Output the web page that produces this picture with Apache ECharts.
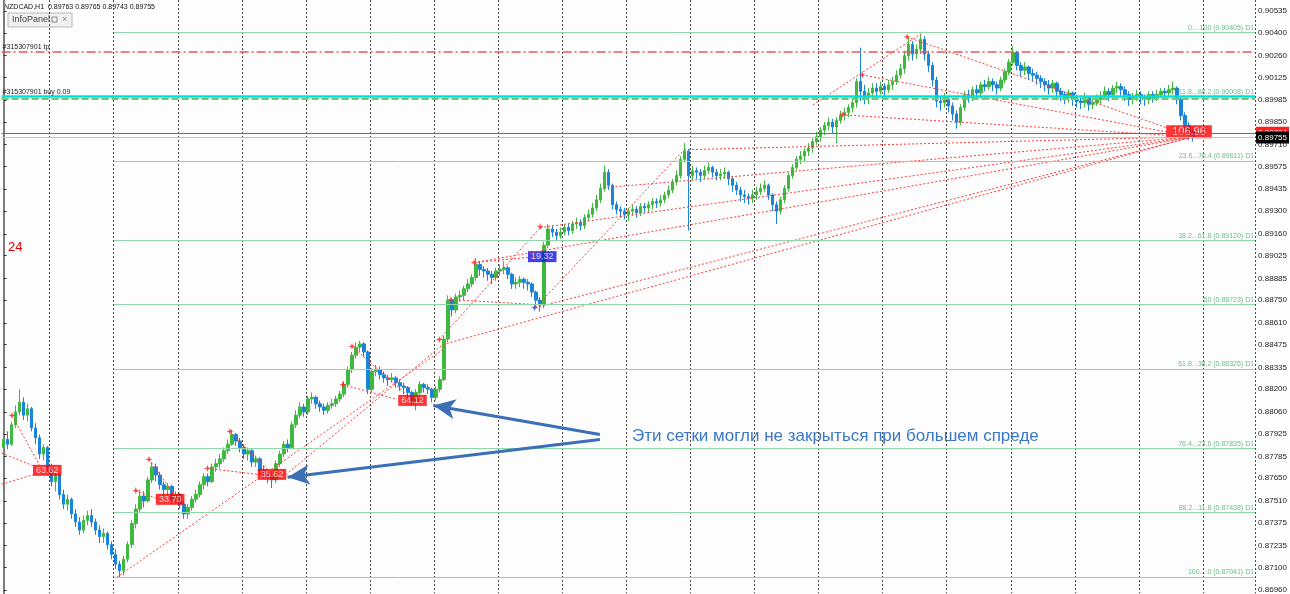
<!DOCTYPE html>
<html><head><meta charset="utf-8">
<script src="https://cdn.jsdelivr.net/npm/echarts@6/dist/echarts.min.js"></script>
<style>html,body{margin:0;padding:0;background:#fdfdfd}#c{width:1290px;height:594px}</style>
</head><body><div id="c"></div><script>
// NZDCAD H1 bars (open, high, low, close)
const opens=[
0.8784,0.8789,0.8786,0.8798,0.8806,0.8812,0.8804,0.8808,0.8796,0.8790,
0.8780,0.8784,0.8772,0.8763,0.8767,0.8755,0.8749,0.8752,0.8743,0.8738,
0.8733,0.8739,0.8742,0.8738,0.8733,0.8729,0.8731,0.8724,0.8718,0.8712,
0.8708,0.8715,0.8724,0.8737,0.8746,0.8754,0.8751,0.8764,0.8772,0.8767,
0.8761,0.8758,0.8760,0.8752,0.8755,0.8749,0.8743,0.8747,0.8752,0.8755,
0.8761,0.8766,0.8763,0.8772,0.8774,0.8777,0.8782,0.8786,0.8792,0.8788,
0.8784,0.8780,0.8782,0.8775,0.8777,0.8770,0.8768,0.8766,0.8764,0.8774,
0.8780,0.8786,0.8784,0.8798,0.8804,0.8809,0.8806,0.8814,0.8815,0.8811,
0.8809,0.8807,0.8810,0.8811,0.8814,0.8817,0.8823,0.8832,0.8841,0.8846,
0.8848,0.8843,0.8820,0.8831,0.8832,0.8829,0.8827,0.8826,0.8827,0.8824,
0.8822,0.8821,0.8818,0.8813,0.8818,0.8823,0.8821,0.8820,0.8815,0.8820,
0.8826,0.8851,0.8875,0.8869,0.8877,0.8878,0.8882,0.8885,0.8889,0.8897,
0.8894,0.8893,0.8891,0.8889,0.8893,0.8894,0.8895,0.8891,0.8885,0.8886,
0.8888,0.8886,0.8885,0.8880,0.8875,0.8872,0.8909,0.8919,0.8917,0.8915,
0.8917,0.8920,0.8918,0.8922,0.8923,0.8921,0.8926,0.8928,0.8932,0.8937,
0.8944,0.8954,0.8946,0.8934,0.8931,0.8930,0.8928,0.8930,0.8931,0.8929,
0.8933,0.8932,0.8934,0.8936,0.8935,0.8937,0.8940,0.8943,0.8948,0.8952,
0.8962,0.8967,0.8952,0.8955,0.8954,0.8952,0.8955,0.8957,0.8954,0.8952,
0.8953,0.8954,0.8950,0.8946,0.8943,0.8940,0.8939,0.8938,0.8940,0.8942,
0.8944,0.8946,0.8940,0.8934,0.8930,0.8937,0.8944,0.8952,0.8957,0.8962,
0.8964,0.8967,0.8969,0.8973,0.8976,0.8980,0.8983,0.8985,0.8982,0.8986,
0.8989,0.8991,0.8994,0.8997,0.9010,0.9004,0.9000,0.9003,0.9006,0.9004,
0.9007,0.9005,0.9008,0.9010,0.9014,0.9018,0.9026,0.9033,0.9027,0.9030,
0.9036,0.9027,0.9020,0.9011,0.8998,0.8997,0.8999,0.8995,0.8990,0.8985,
0.8994,0.9002,0.9000,0.9005,0.9003,0.9008,0.9007,0.9010,0.9008,0.9006,
0.9011,0.9016,0.9022,0.9028,0.9020,0.9017,0.9019,0.9015,0.9014,0.9012,
0.9010,0.9008,0.9006,0.9009,0.9004,0.9002,0.9000,0.9003,0.8999,0.8998,
0.8997,0.9000,0.8996,0.8997,0.8999,0.9001,0.9004,0.9002,0.9006,0.9007,
0.9005,0.9002,0.8999,0.9001,0.9002,0.9000,0.8999,0.9002,0.9000,0.9002,
0.9004,0.9003,0.9005,0.9006,0.8999,0.8989,0.8983,0.8979];
const highs=[
0.8792,0.8794,0.8800,0.8810,0.8820,0.8815,0.8811,0.8809,0.8799,0.8792,
0.8786,0.8785,0.8774,0.8770,0.8768,0.8758,0.8755,0.8753,0.8746,0.8741,
0.8742,0.8745,0.8746,0.8740,0.8736,0.8734,0.8732,0.8726,0.8721,0.8714,
0.8717,0.8726,0.8739,0.8749,0.8758,0.8757,0.8766,0.8775,0.8774,0.8769,
0.8763,0.8762,0.8761,0.8757,0.8756,0.8751,0.8749,0.8754,0.8758,0.8763,
0.8768,0.8768,0.8774,0.8777,0.8780,0.8784,0.8789,0.8795,0.8793,0.8790,
0.8786,0.8784,0.8783,0.8779,0.8778,0.8773,0.8770,0.8768,0.8776,0.8782,
0.8788,0.8789,0.8800,0.8807,0.8812,0.8811,0.8816,0.8818,0.8816,0.8813,
0.8811,0.8812,0.8814,0.8816,0.8819,0.8825,0.8834,0.8843,0.8849,0.8850,
0.8849,0.8844,0.8833,0.8835,0.8834,0.8831,0.8829,0.8830,0.8828,0.8826,
0.8824,0.8822,0.8819,0.8820,0.8825,0.8824,0.8823,0.8821,0.8822,0.8828,
0.8853,0.8878,0.8876,0.8879,0.8881,0.8884,0.8888,0.8891,0.8901,0.8899,
0.8896,0.8895,0.8893,0.8895,0.8897,0.8899,0.8896,0.8892,0.8889,0.8890,
0.8889,0.8888,0.8886,0.8881,0.8877,0.8911,0.8922,0.8921,0.8919,0.8920,
0.8922,0.8922,0.8924,0.8926,0.8925,0.8928,0.8931,0.8935,0.8940,0.8947,
0.8958,0.8956,0.8947,0.8936,0.8933,0.8932,0.8932,0.8934,0.8933,0.8935,
0.8935,0.8936,0.8938,0.8938,0.8940,0.8942,0.8946,0.8950,0.8955,0.8964,
0.8972,0.8968,0.8958,0.8957,0.8956,0.8958,0.8960,0.8958,0.8956,0.8956,
0.8957,0.8955,0.8951,0.8948,0.8945,0.8943,0.8941,0.8943,0.8945,0.8947,
0.8949,0.8947,0.8941,0.8936,0.8939,0.8946,0.8954,0.8959,0.8964,0.8967,
0.8969,0.8972,0.8975,0.8979,0.8982,0.8985,0.8988,0.8987,0.8988,0.8992,
0.8994,0.8996,0.9000,0.9012,0.9031,0.9008,0.9006,0.9009,0.9009,0.9010,
0.9009,0.9011,0.9013,0.9017,0.9021,0.9029,0.9037,0.9035,0.9033,0.9039,
0.9038,0.9029,0.9022,0.9013,0.9001,0.9003,0.9001,0.8997,0.8992,0.8996,
0.9004,0.9005,0.9007,0.9008,0.9010,0.9011,0.9013,0.9012,0.9010,0.9013,
0.9018,0.9024,0.9032,0.9029,0.9022,0.9022,0.9020,0.9018,0.9016,0.9014,
0.9012,0.9011,0.9011,0.9010,0.9006,0.9004,0.9005,0.9004,0.9002,0.9000,
0.9003,0.9001,0.9000,0.9002,0.9004,0.9007,0.9006,0.9008,0.9010,0.9009,
0.9007,0.9004,0.9003,0.9005,0.9004,0.9002,0.9004,0.9004,0.9005,0.9006,
0.9006,0.9008,0.9010,0.9007,0.9000,0.8991,0.8985,0.8981];
const lows=[
0.8780,0.8783,0.8785,0.8796,0.8804,0.8801,0.8800,0.8794,0.8786,0.8777,
0.8776,0.8768,0.8760,0.8757,0.8752,0.8746,0.8745,0.8740,0.8735,0.8730,
0.8731,0.8736,0.8735,0.8730,0.8725,0.8725,0.8721,0.8715,0.8709,0.8704,
0.8705,0.8713,0.8722,0.8734,0.8744,0.8747,0.8750,0.8762,0.8763,0.8758,
0.8753,0.8754,0.8749,0.8750,0.8746,0.8740,0.8740,0.8745,0.8750,0.8753,
0.8758,0.8760,0.8762,0.8769,0.8771,0.8775,0.8780,0.8785,0.8785,0.8781,
0.8777,0.8776,0.8772,0.8772,0.8767,0.8765,0.8762,0.8759,0.8762,0.8772,
0.8778,0.8781,0.8783,0.8796,0.8802,0.8803,0.8804,0.8811,0.8808,0.8806,
0.8804,0.8805,0.8808,0.8809,0.8812,0.8815,0.8821,0.8830,0.8839,0.8843,
0.8840,0.8817,0.8818,0.8828,0.8826,0.8824,0.8822,0.8824,0.8821,0.8819,
0.8817,0.8815,0.8810,0.8807,0.8816,0.8818,0.8817,0.8812,0.8813,0.8818,
0.8825,0.8849,0.8865,0.8867,0.8874,0.8875,0.8880,0.8883,0.8887,0.8890,
0.8889,0.8887,0.8885,0.8887,0.8890,0.8891,0.8888,0.8882,0.8882,0.8883,
0.8882,0.8881,0.8877,0.8871,0.8868,0.8870,0.8907,0.8914,0.8912,0.8913,
0.8915,0.8915,0.8916,0.8919,0.8918,0.8919,0.8924,0.8926,0.8930,0.8935,
0.8942,0.8943,0.8931,0.8928,0.8926,0.8925,0.8924,0.8927,0.8926,0.8927,
0.8929,0.8929,0.8931,0.8932,0.8933,0.8935,0.8938,0.8941,0.8946,0.8950,
0.8960,0.8918,0.8949,0.8950,0.8948,0.8950,0.8953,0.8951,0.8949,0.8949,
0.8950,0.8946,0.8942,0.8940,0.8936,0.8935,0.8934,0.8935,0.8937,0.8940,
0.8942,0.8937,0.8930,0.8922,0.8928,0.8935,0.8942,0.8950,0.8955,0.8959,
0.8961,0.8964,0.8966,0.8971,0.8973,0.8977,0.8980,0.8978,0.8972,0.8984,
0.8986,0.8988,0.8991,0.8994,0.8998,0.8996,0.8996,0.9000,0.9001,0.9002,
0.9000,0.9003,0.9005,0.9008,0.9012,0.9015,0.9023,0.9023,0.9024,0.9027,
0.9023,0.9016,0.9007,0.8994,0.8992,0.8994,0.8991,0.8986,0.8981,0.8983,
0.8992,0.8997,0.8998,0.9000,0.9001,0.9004,0.9005,0.9004,0.9002,0.9004,
0.9009,0.9014,0.9020,0.9017,0.9013,0.9014,0.9011,0.9010,0.9008,0.9006,
0.9004,0.9002,0.9003,0.9000,0.8998,0.8996,0.8997,0.8995,0.8994,0.8993,
0.8994,0.8992,0.8993,0.8995,0.8996,0.8999,0.8998,0.9000,0.9003,0.9001,
0.8998,0.8995,0.8996,0.8998,0.8996,0.8995,0.8996,0.8997,0.8998,0.9000,
0.9000,0.9001,0.9002,0.8996,0.8986,0.8979,0.8974,0.8973];
const closes=[
0.8789,0.8786,0.8798,0.8806,0.8812,0.8804,0.8808,0.8796,0.8790,0.8780,
0.8784,0.8772,0.8763,0.8767,0.8755,0.8749,0.8752,0.8743,0.8738,0.8733,
0.8739,0.8742,0.8738,0.8733,0.8729,0.8731,0.8724,0.8718,0.8712,0.8708,
0.8715,0.8724,0.8737,0.8746,0.8754,0.8751,0.8764,0.8772,0.8767,0.8761,
0.8758,0.8760,0.8752,0.8755,0.8749,0.8743,0.8747,0.8752,0.8755,0.8761,
0.8766,0.8763,0.8772,0.8774,0.8777,0.8782,0.8786,0.8792,0.8788,0.8784,
0.8780,0.8782,0.8775,0.8777,0.8770,0.8768,0.8766,0.8764,0.8774,0.8780,
0.8786,0.8784,0.8798,0.8804,0.8809,0.8806,0.8814,0.8815,0.8811,0.8809,
0.8807,0.8810,0.8811,0.8814,0.8817,0.8823,0.8832,0.8841,0.8846,0.8848,
0.8843,0.8820,0.8831,0.8832,0.8829,0.8827,0.8826,0.8827,0.8824,0.8822,
0.8821,0.8818,0.8813,0.8818,0.8823,0.8821,0.8820,0.8815,0.8820,0.8826,
0.8851,0.8875,0.8869,0.8877,0.8878,0.8882,0.8885,0.8889,0.8897,0.8894,
0.8893,0.8891,0.8889,0.8893,0.8894,0.8895,0.8891,0.8885,0.8886,0.8888,
0.8886,0.8885,0.8880,0.8875,0.8872,0.8909,0.8919,0.8917,0.8915,0.8917,
0.8920,0.8918,0.8922,0.8923,0.8921,0.8926,0.8928,0.8932,0.8937,0.8944,
0.8954,0.8946,0.8934,0.8931,0.8930,0.8928,0.8930,0.8931,0.8929,0.8933,
0.8932,0.8934,0.8936,0.8935,0.8937,0.8940,0.8943,0.8948,0.8952,0.8962,
0.8967,0.8952,0.8955,0.8954,0.8952,0.8955,0.8957,0.8954,0.8952,0.8953,
0.8954,0.8950,0.8946,0.8943,0.8940,0.8939,0.8938,0.8940,0.8942,0.8944,
0.8946,0.8940,0.8934,0.8930,0.8937,0.8944,0.8952,0.8957,0.8962,0.8964,
0.8967,0.8969,0.8973,0.8976,0.8980,0.8983,0.8985,0.8982,0.8986,0.8989,
0.8991,0.8994,0.8997,0.9010,0.9004,0.9000,0.9003,0.9006,0.9004,0.9007,
0.9005,0.9008,0.9010,0.9014,0.9018,0.9026,0.9033,0.9027,0.9030,0.9036,
0.9027,0.9020,0.9011,0.8998,0.8997,0.8999,0.8995,0.8990,0.8985,0.8994,
0.9002,0.9000,0.9005,0.9003,0.9008,0.9007,0.9010,0.9008,0.9006,0.9011,
0.9016,0.9022,0.9028,0.9020,0.9017,0.9019,0.9015,0.9014,0.9012,0.9010,
0.9008,0.9006,0.9009,0.9004,0.9002,0.9000,0.9003,0.8999,0.8998,0.8997,
0.9000,0.8996,0.8997,0.8999,0.9001,0.9004,0.9002,0.9006,0.9007,0.9005,
0.9002,0.8999,0.9001,0.9002,0.9000,0.8999,0.9002,0.9000,0.9002,0.9004,
0.9003,0.9005,0.9006,0.8999,0.8989,0.8983,0.8979,0.89755];

// right price scale tick labels
const priceTicks=[0.86960,0.87100,0.87235,0.87375,0.87510,0.87650,0.87785,0.87925,0.88060,0.88200,
0.88335,0.88475,0.88610,0.88750,0.88885,0.89025,0.89160,0.89300,0.89435,0.89575,0.89710,0.89850,
0.89985,0.90125,0.90260,0.90400,0.90535];

// Fibonacci levels (D1)
const fibLevels=[0.90405,0.90008,0.89611,0.89120,0.88723,0.88326,0.87835,0.87438,0.87041];
const fibNames=['0....100','11.8...88.2','23.6...76.4','38.2...61.8','50','61.8...38.2','76.4...23.6','88.2...11.8','100....0'];
const fibStartBar=27.6;

// order / price lines
const tpPrice=0.90283, buyPrice=0.90010, buyOpenPrice=0.89996, askPrice=0.89784, bidPrice=0.89755;

// grid-order dotted lines [bar1, price1, bar2, price2]
const gridSegments=[
[-0.5,0.87806,9.0,0.87711],[-0.5,0.87613,10.2,0.87693],[2.1,0.88038,9.0,0.87730],
[28.3,0.87039,109.7,0.88445],[33.0,0.87574,38.7,0.87520],[36.3,0.87767,42.5,0.87551],
[50.9,0.87711,63.5,0.87674],[56.5,0.87939,67.2,0.87674],[69.7,0.87656,109.7,0.88476],
[84.7,0.88229,98.2,0.88137],[87.0,0.88464,100.6,0.88168],[108.8,0.88507,134.0,0.89198],
[111.7,0.88754,132.8,0.88723],[117.5,0.88982,132.8,0.89019],[132.8,0.88704,169.9,0.89679],
[202.1,0.89956,229.8,0.90407],
[225.6,0.90376,296.9,0.89759],[214.4,0.90141,296.9,0.89759],[209.4,0.89895,296.9,0.89759],
[169.9,0.89679,296.9,0.89759],[149.8,0.89444,296.9,0.89759],[134.0,0.89198,296.9,0.89759],
[132.8,0.88704,296.9,0.89759],[109.7,0.88476,296.9,0.89759],[117.5,0.88982,296.9,0.89759]];

// order entry marks
const starBars=[2.1,33.0,36.3,50.9,56.5,84.7,87.0,108.8,111.7,117.5,134.0,209.4,214.4,225.6];
const starPrices=[0.88038,0.87574,0.87767,0.87711,0.87939,0.88229,0.88464,0.88507,0.88754,0.88982,0.89204,0.89895,0.90141,0.90376];
const sellStar=[132.6,0.88704];

// grid profit boxes
const boxBars=[10.9,41.6,67.0,102.1,134.5,296.0];
const boxPrices=[0.87699,0.87520,0.87674,0.88131,0.89019,0.89790];
const boxTexts=['63.62','33.70','35.62','64.12','19.32','106.96'];
const boxColors=['#ff0000','#ff0000','#ff0000','#ff0000','#1010e0','#ff0000'];

// annotation arrows [fromBar, fromPrice, toBar, toPrice]
const arrows=[[148.9,0.87921,107.3,0.88100],[148.9,0.87890,70.9,0.87656]];
const noteText='Эти сетки могли не закрыться при большем спреде';

const SLOTS=313;
const slots=[];for(let i=0;i<SLOTS;i++)slots.push(String(i));
const candleData=opens.map((o,i)=>[o,closes[i],lows[i],highs[i]]);
const FF='"Liberation Sans", Arial, sans-serif';
const L0=-0.5, L1=SLOTS-0.5;

const fibMarks=fibLevels.map((v,i)=>[
 {coord:[fibStartBar,v],lineStyle:{color:'#8fd6a8',width:1,type:'solid'},
  label:{show:true,position:'insideEndTop',distance:1,formatter:fibNames[i]+' ('+v.toFixed(5)+') D1',color:'#6cc08c',fontSize:7,fontFamily:FF}},
 {coord:[L1,v]}]);

function fullLine(p,lineStyle,label){return [{coord:[L0,p],lineStyle:lineStyle,label:label},{coord:[L1,p]}];}
const levelMarks=[
 fullLine(tpPrice,{color:'#e85a5a',width:1.5,type:[9,3,2,3]},{show:true,position:'insideStartTop',distance:1,formatter:'#315307901 tp',color:'#222',fontSize:7,fontFamily:FF}),
 fullLine(buyOpenPrice,{color:'#6ccc6c',width:2,type:[7,3]},{show:false}),
 fullLine(buyPrice,{color:'#00e0e0',width:2.5,type:'solid'},{show:true,position:'insideStartTop',distance:1,formatter:'#315307901 buy 0.09',color:'#222',fontSize:7,fontFamily:FF}),
 fullLine(askPrice,{color:'#ff3030',width:1,type:'solid'},{show:true,position:'end',distance:1,formatter:'0.89784',color:'#fff',backgroundColor:'#ff2020',padding:[2,2],fontSize:8,fontFamily:FF}),
 fullLine(bidPrice,{color:'#c4c4c4',width:1,type:'solid'},{show:true,position:'end',distance:1,formatter:'0.89755',color:'#fff',backgroundColor:'#000',padding:[2,2],fontSize:8,fontFamily:FF})
];

const segMarks=gridSegments.map(s=>[{coord:[s[0],s[1]]},{coord:[s[2],s[3]]}]);
const arrowMarks=arrows.map(a=>[{coord:[a[0],a[1]]},{coord:[a[2],a[3]]}]);

const starPath='path://M0,-10 L2.5,-2.5 L10,0 L2.5,2.5 L0,10 L-2.5,2.5 L-10,0 L-2.5,-2.5Z';

const option={
 animation:false,
 backgroundColor:'#fdfdfd',
 grid:{left:1.6,right:24,top:0,bottom:0},
 xAxis:[
  {type:'category',data:slots,boundaryGap:true,axisLine:{show:false},axisTick:{show:false},axisLabel:{show:false},
   splitLine:{show:true,interval:(i)=>i%16===12,lineStyle:{color:'#4a4a4a',width:1,type:[2,2]}}},
  {type:'value',min:L0,max:L1,show:false,splitLine:{show:false}}
 ],
 yAxis:{type:'value',position:'right',min:0.8694,max:0.90604,
  splitLine:{show:false},
  axisLine:{show:true,lineStyle:{color:'#7c7c7c',width:2}},
  axisTick:{show:true,length:3,customValues:priceTicks,lineStyle:{color:'#333'}},
  axisLabel:{show:true,customValues:priceTicks,formatter:(v)=>v.toFixed(5),color:'#222',fontSize:8,fontFamily:FF,margin:3}},
 series:[
  {type:'line',xAxisIndex:1,data:[],silent:true,
   markLine:{silent:true,symbol:'none',animation:false,label:{show:false},lineStyle:{color:'#ff3c3c',width:1,type:[2,2]},data:segMarks}},
  {type:'candlestick',xAxisIndex:0,data:candleData,barWidth:3,
   itemStyle:{color:'#3fb83f',color0:'#1a84d8',borderColor:'#3fb83f',borderColor0:'#1a84d8',borderWidth:1}},
  {type:'line',xAxisIndex:1,data:[],silent:true,clip:false,
   markLine:{silent:true,symbol:'none',animation:false,data:fibMarks.concat(levelMarks)}},
  {type:'scatter',xAxisIndex:1,symbol:starPath,symbolSize:7,itemStyle:{color:'#ff1a1a'},
   data:starBars.map((b,i)=>[b,starPrices[i]]).concat([{value:sellStar,itemStyle:{color:'#1030e0'}}])},
  {type:'scatter',xAxisIndex:1,symbolSize:1,itemStyle:{color:'rgba(0,0,0,0)'},
   data:boxBars.map((b,i)=>({value:[b,boxPrices[i]],label:{show:true,position:'inside',formatter:boxTexts[i],
    backgroundColor:boxColors[i],color:'#fff',fontFamily:FF,fontSize:i===5?11:9,padding:i===5?[1,6]:[1,3]}}))},
  {type:'line',xAxisIndex:1,data:[],silent:true,
   markLine:{silent:true,symbol:['none','arrow'],symbolSize:[15,22],animation:false,label:{show:false},
    lineStyle:{color:'#3b6fb6',width:3,type:'solid'},data:arrowMarks}}
 ],
 graphic:[
  {type:'text',x:4,y:4,style:{text:'NZDCAD,H1  0.89763 0.89765 0.89743 0.89755',fill:'#111',font:'7px '+FF}},
  {type:'rect',shape:{x:8,y:13,width:64,height:14},style:{fill:'#f1f1f1',stroke:'#b8b8b8',lineWidth:1}},
  {type:'text',x:12,y:15,style:{text:'InfoPanel',fill:'#444',font:'9px '+FF}},
  {type:'rect',shape:{x:52,y:17,width:5,height:5},style:{fill:'none',stroke:'#888',lineWidth:1}},
  {type:'text',x:62,y:15,style:{text:'×',fill:'#888',font:'9px '+FF}},
  {type:'text',x:8,y:241,style:{text:'24',fill:'#e00000',font:'13px '+FF}},
  {type:'text',x:632,y:428,style:{text:noteText,fill:'#3a77c6',font:'17px '+FF}}
 ]
};
const chart=echarts.init(document.getElementById('c'));
chart.setOption(option);
</script></body></html>
